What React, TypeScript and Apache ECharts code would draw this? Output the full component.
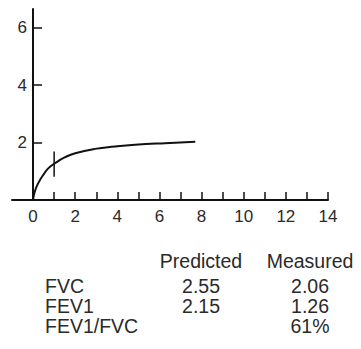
import React, { useEffect, useRef } from "react";
import * as echarts from "echarts";

const curveX = [0, 0.08, 0.24, 0.48, 0.72, 1.04, 1.52, 2.0, 2.94, 3.89, 4.84, 6.26, 7.7];
const curveY = [0, 0.29, 0.58, 0.87, 1.1, 1.28, 1.49, 1.63, 1.78, 1.86, 1.92, 1.98, 2.03];
const fev1MarkX = [1, 1];
const fev1MarkY = [0.81, 1.69];

const xTickValues = [1, 2, 3, 4, 5, 6, 7, 8, 9, 10, 11, 12, 13, 14];
const xLabelValues = [0, 2, 4, 6, 8, 10, 12, 14];
const yTickValues = [2, 4, 6];
const yLabelValues = [2, 4, 6];

const tableHeaders = ["Predicted", "Measured"];
const rowLabels = ["FVC", "FEV1", "FEV1/FVC"];
const predictedValues = ["2.55", "2.15", ""];
const measuredValues = ["2.06", "1.26", "61%"];

const TEXT = "#2a2a2a";
const FONT = "Liberation Sans, Arial, sans-serif";

export default function App() {
  const ref = useRef<HTMLDivElement>(null);
  useEffect(() => {
    if (!ref.current) return;
    const chart = echarts.init(ref.current, null, { renderer: "svg" });

    const graphics: any[] = [];
    const headerY = 261;
    const rowY = [285.5, 306, 326];
    const colX = [201, 310];
    const tf = `19.5px ${FONT}`;
    tableHeaders.forEach((h, i) => {
      graphics.push({
        type: "text",
        x: colX[i],
        y: headerY,
        style: { text: h, fill: TEXT, font: tf, textAlign: "center", textVerticalAlign: "middle" },
      });
    });
    rowLabels.forEach((lab, r) => {
      graphics.push({
        type: "text",
        x: 45,
        y: rowY[r],
        style: { text: lab, fill: TEXT, font: tf, textAlign: "left", textVerticalAlign: "middle" },
      });
      [predictedValues[r], measuredValues[r]].forEach((v, c) => {
        if (!v) return;
        graphics.push({
          type: "text",
          x: colX[c],
          y: rowY[r],
          style: { text: v, fill: TEXT, font: tf, textAlign: "center", textVerticalAlign: "middle" },
        });
      });
    });

    chart.setOption({
      animation: false,
      backgroundColor: "#ffffff",
      grid: { left: 12, top: 9, width: 316, height: 191, containLabel: false, outerBoundsMode: "none" },
      xAxis: {
        type: "value",
        min: -1,
        max: 14,
        interval: 1,
        splitLine: { show: false },
        axisLine: { show: true, onZero: true, lineStyle: { color: "#111", width: 2 } },
        axisTick: { show: true, inside: true, length: 8, customValues: xTickValues, lineStyle: { color: "#111", width: 1.5 } },
        axisLabel: { customValues: xLabelValues, color: TEXT, fontSize: 17, fontFamily: FONT, margin: 8 },
      },
      yAxis: {
        type: "value",
        min: 0,
        max: 6.65,
        interval: 2,
        splitLine: { show: false },
        axisLine: { show: true, onZero: true, lineStyle: { color: "#111", width: 2 } },
        axisTick: { show: true, inside: true, length: 9, customValues: yTickValues, lineStyle: { color: "#111", width: 1.5 } },
        axisLabel: { customValues: yLabelValues, color: TEXT, fontSize: 17, fontFamily: FONT, margin: -15 },
      },
      series: [
        {
          type: "line",
          data: curveX.map((x, i) => [x, curveY[i]]),
          smooth: true,
          showSymbol: false,
          lineStyle: { color: "#111", width: 2 },
        },
        {
          type: "line",
          data: fev1MarkX.map((x, i) => [x, fev1MarkY[i]]),
          showSymbol: false,
          lineStyle: { color: "#111", width: 1.5 },
        },
      ],
      graphic: graphics,
    });
    return () => chart.dispose();
  }, []);
  return <div ref={ref} style={{ width: 361, height: 349, position: "absolute", left: 0, top: 0 }} />;
}
